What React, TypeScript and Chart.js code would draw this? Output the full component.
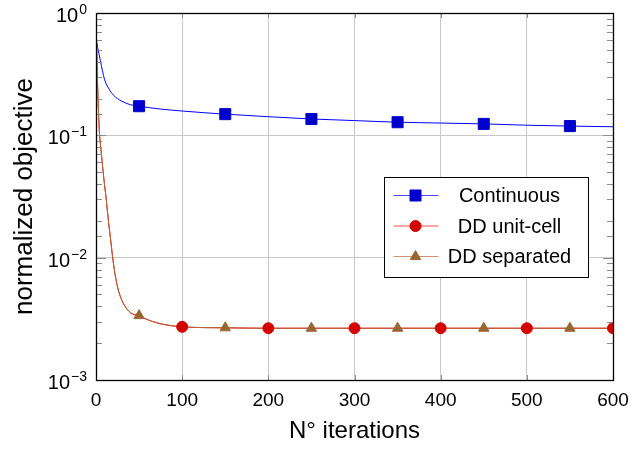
import React, { useEffect, useRef } from 'react';
import { Chart, registerables } from 'chart.js';

Chart.register(...registerables);

// ---- data ----
const contIter = [0, 2, 5, 10, 15, 20, 30, 40, 50, 75, 100, 150, 200, 250, 300, 350, 400, 450, 500, 550, 600];
const contValues = [0.62, 0.52, 0.41, 0.285, 0.24, 0.214, 0.19, 0.178, 0.173, 0.164, 0.158, 0.149, 0.142, 0.136, 0.132, 0.128, 0.126, 0.124, 0.121, 0.119, 0.1175];
const contMarkers = [50, 150, 250, 350, 450, 550];

const unitIter = [0, 1, 2, 3, 4, 6, 7, 9, 12, 14, 17, 19, 22, 26, 32, 40, 50, 63, 78, 100, 150, 200, 250, 300, 350, 400, 450, 500, 550, 600];
const unitValues = [1.0, 0.45, 0.24, 0.15, 0.105, 0.074, 0.062, 0.045, 0.0295, 0.0213, 0.014, 0.0105, 0.0074, 0.0054, 0.0042, 0.00355, 0.00333, 0.00305, 0.00285, 0.00272, 0.00267, 0.00265, 0.00265, 0.00265, 0.00265, 0.00265, 0.00265, 0.00265, 0.00265, 0.00265];
const unitMarkers = [100, 200, 300, 400, 500, 600];

const sepIter = [0, 1, 2, 3, 4, 6, 7, 9, 12, 14, 17, 19, 22, 26, 32, 40, 50, 63, 78, 100, 150, 200, 250, 300, 350, 400, 450, 500, 550, 600];
const sepValues = [1.0, 0.45, 0.24, 0.15, 0.105, 0.074, 0.062, 0.045, 0.0295, 0.0213, 0.014, 0.0105, 0.0074, 0.0054, 0.0042, 0.00355, 0.00336, 0.00305, 0.00285, 0.00272, 0.00267, 0.00265, 0.00265, 0.00265, 0.00265, 0.00265, 0.00265, 0.00265, 0.00265, 0.00265];
const sepMarkers = [50, 150, 250, 350, 450, 550];

const seriesNames = ['Continuous', 'DD unit-cell', 'DD separated'];
const xTicks = [0, 100, 200, 300, 400, 500, 600];
const yDecades = [0, -1, -2, -3];

const FONT = '"Liberation Sans", Arial, Helvetica, sans-serif';

const BLUE_LINE = 'rgb(0,0,255)';
const BLUE_MARK = 'rgb(0,0,204)';
const RED_LINE = 'rgb(255,0,0)';
const RED_MARK = 'rgb(212,0,0)';
const BROWN_LINE = 'rgb(176,100,55)';
const BROWN_MARK = 'rgb(153,102,51)';

const pts = (xs: number[], ys: number[]) => xs.map((x, i) => ({ x, y: ys[i] }));
const markPts = (xs: number[], ys: number[], m: number[]) =>
  xs.map((x, i) => ({ x, y: ys[i] })).filter((p) => m.includes(p.x));

const isMajor = (v: number) => Math.abs(Math.log10(v) - Math.round(Math.log10(v))) < 1e-9;

function drawMarker(ctx: CanvasRenderingContext2D, kind: string, x: number, y: number, color: string) {
  ctx.save();
  ctx.fillStyle = color;
  ctx.strokeStyle = color;
  ctx.lineWidth = 1;
  ctx.beginPath();
  if (kind === 'rect') {
    ctx.rect(x - 5.5, y - 5.5, 11, 11);
  } else if (kind === 'circle') {
    ctx.arc(x, y, 5.5, 0, Math.PI * 2);
  } else {
    const r = 6;
    ctx.moveTo(x, y - r);
    ctx.lineTo(x + r * Math.sin((2 * Math.PI) / 3), y - r * Math.cos((2 * Math.PI) / 3));
    ctx.lineTo(x + r * Math.sin((4 * Math.PI) / 3), y - r * Math.cos((4 * Math.PI) / 3));
    ctx.closePath();
  }
  ctx.fill();
  ctx.stroke();
  ctx.restore();
}

const framePlugin = {
  id: 'frameTicks',
  afterDatasetsDraw(chart: any) {
    const { ctx, chartArea: ca, scales } = chart;
    ctx.save();
    ctx.strokeStyle = 'rgb(140,140,140)';
    ctx.lineWidth = 1;
    for (const t of scales.y.ticks) {
      const y = Math.round(scales.y.getPixelForValue(t.value)) + 0.5;
      const len = isMajor(t.value) ? 10 : 6;
      ctx.beginPath();
      ctx.moveTo(ca.left, y);
      ctx.lineTo(ca.left + len, y);
      ctx.moveTo(ca.right, y);
      ctx.lineTo(ca.right - len, y);
      ctx.stroke();
    }
    for (const t of scales.x.ticks) {
      const x = Math.round(scales.x.getPixelForValue(t.value)) + 0.5;
      ctx.beginPath();
      ctx.moveTo(x, ca.bottom);
      ctx.lineTo(x, ca.bottom - 5);
      ctx.moveTo(x, ca.top);
      ctx.lineTo(x, ca.top + 5);
      ctx.stroke();
    }
    ctx.restore();
  },
  afterDraw(chart: any) {
    const { ctx, chartArea: ca, scales } = chart;
    ctx.save();
    ctx.strokeStyle = '#000';
    ctx.lineWidth = 1.3;
    ctx.strokeRect(Math.round(ca.left) + 0.5, Math.round(ca.top) + 0.5, Math.round(ca.right - ca.left), Math.round(ca.bottom - ca.top));

    ctx.fillStyle = '#000';
    ctx.textBaseline = 'alphabetic';
    for (const k of yDecades) {
      const y = scales.y.getPixelForValue(Math.pow(10, k));
      const sup = k === 0 ? '0' : '\u2212' + String(-k);
      ctx.font = `14px ${FONT}`;
      const sw = ctx.measureText(sup).width;
      const right = ca.left - 9;
      ctx.textAlign = 'left';
      ctx.fillText(sup, right - sw, y + 1);
      ctx.font = `20px ${FONT}`;
      ctx.textAlign = 'right';
      ctx.fillText('10', right - sw - 1, y + 9);
    }

    const w = 204, h = 100;
    const left = Math.round(ca.right - 229) + 0.5;
    const top = Math.round(ca.top + 164) + 0.5;
    ctx.fillStyle = '#fff';
    ctx.fillRect(left, top, w, h);
    ctx.strokeStyle = '#000';
    ctx.lineWidth = 1;
    ctx.strokeRect(left, top, w, h);
    const lineCols = [BLUE_LINE, RED_LINE, BROWN_LINE];
    const markCols = [BLUE_MARK, RED_MARK, BROWN_MARK];
    const kinds = ['rect', 'circle', 'triangle'];
    seriesNames.forEach((name, i) => {
      const y = top + 18 + i * 30.5;
      ctx.strokeStyle = lineCols[i];
      ctx.globalAlpha = 0.7;
      ctx.lineWidth = 1;
      ctx.beginPath();
      ctx.moveTo(left + 9, y);
      ctx.lineTo(left + 54, y);
      ctx.stroke();
      ctx.globalAlpha = 1;
      drawMarker(ctx, kinds[i], left + 31, y, markCols[i]);
      ctx.fillStyle = '#000';
      ctx.font = `20px ${FONT}`;
      ctx.textAlign = 'center';
      ctx.textBaseline = 'middle';
      ctx.fillText(name, left + 125, y + 1);
    });
    ctx.restore();
  },
};

export default function App() {
  const ref = useRef<HTMLCanvasElement | null>(null);
  useEffect(() => {
    if (!ref.current) return;
    const lineDs = (label: string, xs: number[], ys: number[], color: string, order: number) => ({
      label,
      data: pts(xs, ys),
      borderColor: color,
      backgroundColor: color,
      borderWidth: 1,
      pointRadius: 0,
      cubicInterpolationMode: 'monotone' as const,
      order,
    });
    const markDs = (label: string, xs: number[], ys: number[], m: number[], color: string, style: string, radius: number) => ({
      label,
      data: markPts(xs, ys, m),
      showLine: false,
      borderColor: color,
      backgroundColor: color,
      borderWidth: 1,
      pointStyle: style,
      pointRadius: radius,
      order: 0,
    });
    const chart = new Chart(ref.current, {
      type: 'line',
      data: {
        datasets: [
          lineDs(seriesNames[0], contIter, contValues, BLUE_LINE, 3),
          lineDs(seriesNames[1], unitIter, unitValues, RED_LINE, 2),
          lineDs(seriesNames[2], sepIter, sepValues, BROWN_LINE, 1),
          markDs(seriesNames[0] + ' marks', contIter, contValues, contMarkers, BLUE_MARK, 'rect', 7.8),
          markDs(seriesNames[1] + ' marks', unitIter, unitValues, unitMarkers, RED_MARK, 'circle', 5.5),
          markDs(seriesNames[2] + ' marks', sepIter, sepValues, sepMarkers, BROWN_MARK, 'triangle', 6),
        ] as any,
      },
      options: {
        animation: false,
        responsive: true,
        maintainAspectRatio: false,
        layout: { padding: { top: 13, right: 19, left: 0, bottom: 0 } },
        plugins: { legend: { display: false }, tooltip: { enabled: false } },
        scales: {
          x: {
            type: 'linear',
            min: 0,
            max: 600,
            afterBuildTicks: (scale: any) => {
              scale.ticks = xTicks.map((v) => ({ value: v }));
            },
            afterFit: (scale: any) => {
              scale.height = 72;
              scale.paddingLeft = 0;
              scale.paddingRight = 0;
            },
            ticks: { color: '#000', font: { family: FONT, size: 19 }, padding: 9, maxRotation: 0 },
            grid: { color: 'rgb(200,200,200)', drawTicks: false },
            border: { display: false },
            title: {
              display: true,
              text: 'N° iterations',
              color: '#000',
              font: { family: FONT, size: 24 },
              padding: { top: 0, bottom: 6 },
            },
          },
          y: {
            type: 'logarithmic',
            min: 0.001,
            max: 1,
            afterFit: (scale: any) => {
              scale.width = 96;
              scale.paddingTop = 0;
              scale.paddingBottom = 0;
            },
            ticks: { display: false },
            grid: {
              color: (c: any) => (c.tick && isMajor(c.tick.value) ? 'rgb(200,200,200)' : 'rgba(0,0,0,0)'),
              drawTicks: false,
            },
            border: { display: false },
            title: {
              display: true,
              text: 'normalized objective',
              color: '#000',
              font: { family: FONT, size: 26 },
              padding: { top: 9, bottom: 0 },
            },
          },
        },
      },
      plugins: [framePlugin],
    });
    return () => chart.destroy();
  }, []);
  return (
    <div style={{ position: 'fixed', left: 0, top: 0, width: 632, height: 452, background: '#fff' }}>
      <canvas ref={ref} />
    </div>
  );
}
